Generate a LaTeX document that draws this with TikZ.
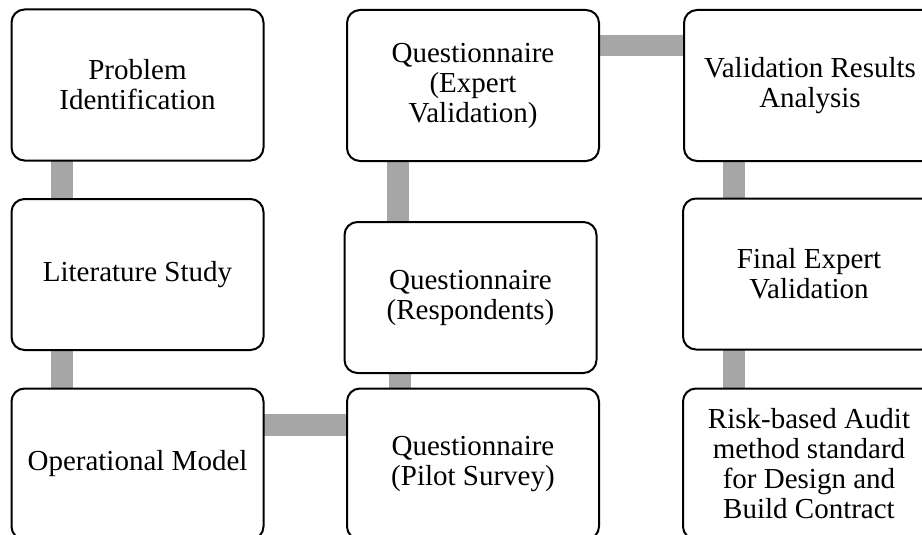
\documentclass[tikz,border=0pt]{standalone}
\usepackage{fontspec}
\setmainfont{Liberation Serif}
\usetikzlibrary{backgrounds}
\definecolor{conngray}{HTML}{A6A6A6}
\tikzset{
  stepbox/.style={draw=black, line width=2pt, fill=white, rounded corners=13pt,
    minimum width=252pt, minimum height=151pt, inner sep=0pt, outer sep=0pt,
    align=center, font=\fontsize{29}{30}\selectfont},
  conn/.style={draw=conngray, line width=22pt}
}
\begin{document}
\begin{tikzpicture}[x=1pt,y=-1pt]
\useasboundingbox (0,0) rectangle (922,535);
\clip (0,0) rectangle (922,535);
% column 1
\node[stepbox] (prob) at (137.5,85) {Problem\\Identification};
\node[stepbox] (lit)  at (137.5,274.5) {Literature Study};
\node[stepbox] (op)   at (137.5,464) {Operational Model};
% column 2
\node[stepbox] (qev)  at (473,85.5) {Questionnaire\\(Expert\\Validation)};
\node[stepbox] (qres) at (470.5,297.5) {Questionnaire\\(Respondents)};
\node[stepbox] (qpil) at (473,464) {Questionnaire\\(Pilot Survey)};
% column 3
\node[stepbox] (var)  at (810,85.5) {Validation Results\\Analysis};
\node[stepbox] (fev)  at (809,274) {Final Expert\\Validation};
\node[stepbox] (risk) at (809,464) {Risk-based Audit\\method standard\\for Design and\\Build Contract};
\begin{scope}[on background layer]
  \draw[conn] ([xshift=-75.5pt]prob.south) -- ([xshift=-75.5pt]prob.south |- lit.north);
  \draw[conn] ([xshift=-75.5pt]lit.south) -- ([xshift=-75.5pt]lit.south |- op.north);
  \draw[conn] ([yshift=39pt]op.east) -- ([yshift=39pt]op.east -| qpil.west);
  \draw[conn] ([xshift=-73pt]qpil.north) -- ([xshift=-73pt]qpil.north |- qres.south);
  \draw[conn] ([xshift=-73pt]qres.north) -- ([xshift=-73pt]qres.north |- qev.south);
  \draw[conn, line width=21pt] ([yshift=39.5pt]qev.east) -- ([yshift=39.5pt]qev.east -| var.west);
  \draw[conn] ([xshift=-76pt]var.south) -- ([xshift=-76pt]var.south |- fev.north);
  \draw[conn] ([xshift=-75pt]fev.south) -- ([xshift=-75pt]fev.south |- risk.north);
\end{scope}
\end{tikzpicture}
\end{document}
